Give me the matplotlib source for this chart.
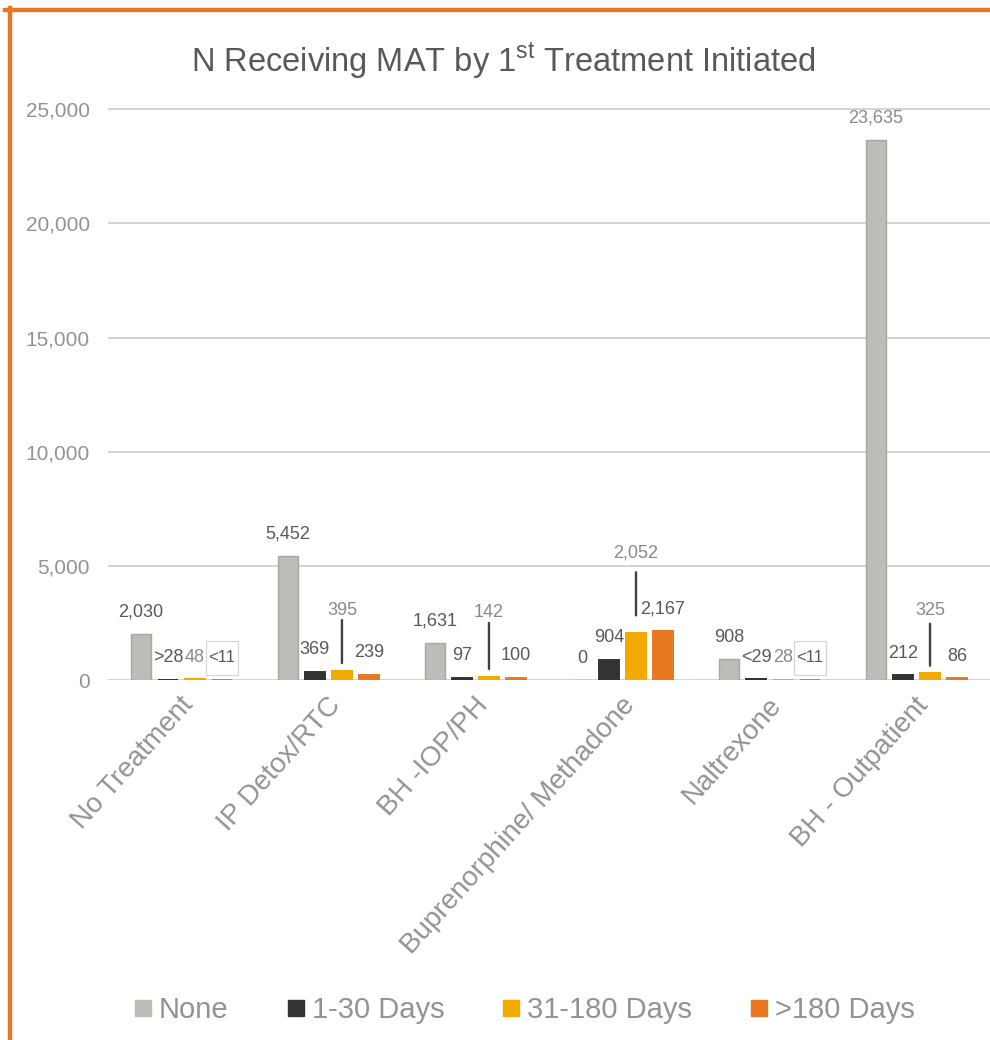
import matplotlib
matplotlib.use("Agg")
import matplotlib.pyplot as plt
import matplotlib.lines as mline
import matplotlib.patches as mpatches
import matplotlib.transforms as mtrans
import numpy as np

# Treatment categories and the four MAT timing series
categories = ["No Treatment", "IP Detox/RTC", "BH -IOP/PH",
              "Buprenorphine/ Methadone", "Naltrexone", "BH - Outpatient"]
series_names = ["None", "1-30 Days", "31-180 Days", ">180 Days"]

none_vals = [2030, 5452, 1631, 0, 908, 23635]
days_1_30 = [28, 369, 97, 904, 29, 212]
days_31_180 = [48, 395, 142, 2052, 28, 325]
days_180_plus = [11, 239, 100, 2167, 11, 86]

none_labels = ["2,030", "5,452", "1,631", "0", "908", "23,635"]
days_1_30_labels = [">28", "369", "97", "904", "<29", "212"]
days_31_180_labels = ["48", "395", "142", "2,052", "28", "325"]
days_180_plus_labels = ["<11", "239", "100", "2,167", "<11", "86"]

y_ticks = [0, 5000, 10000, 15000, 20000, 25000]

colors = ["#bdbdb8", "#333333", "#f2a900", "#e87722"]
dark_txt = "#595959"
light_txt = "#8a8a8a"

plt.rcParams["font.family"] = ["Liberation Sans", "DejaVu Sans"]
plt.rcParams["mathtext.fontset"] = "custom"
plt.rcParams["mathtext.rm"] = "Liberation Sans"

DPI = 100
fig = plt.figure(figsize=(9.9, 10.4), dpi=DPI)
ax = fig.add_axes([0.109, 0.346, 0.891, 0.55])

x = np.arange(len(categories))
step = 0.184
width = 0.136
all_vals = [none_vals, days_1_30, days_31_180, days_180_plus]
all_labels = [none_labels, days_1_30_labels, days_31_180_labels, days_180_plus_labels]

for k, (vals, col) in enumerate(zip(all_vals, colors)):
    if k == 0:
        ec, lw = "#a8a8a3", 1.0
    else:
        ec, lw = col, 1.4  # edge keeps the tiny counts visible
    ax.bar(x + (k - 1.5) * step, vals, width, color=col, edgecolor=ec,
           linewidth=lw, zorder=3, label=series_names[k])

px = 72.0 / DPI  # points per pixel

# labels lifted up with a leader line: (series, category) -> (label offset, line bottom, line top) in px
leaders = {(2, 1): (61, 8, 51), (2, 2): (64, 8, 54),
           (2, 3): (80, 18, 61), (2, 5): (62, 7, 49)}
boxed = {(3, 0), (3, 4)}

for k, (vals, labs) in enumerate(zip(all_vals, all_labels)):
    for i, (v, lab) in enumerate(zip(vals, labs)):
        xc = x[i] + (k - 1.5) * step
        color = light_txt if k == 2 or (k == 0 and i == 5) else dark_txt
        off = 22
        size = 13
        if (k, i) in leaders:
            off, lb, lt = leaders[(k, i)]
            ax.annotate("", xy=(xc, v), xytext=(0, lt * px), textcoords="offset points",
                        arrowprops=dict(arrowstyle="-", color="#404040", lw=1.7,
                                        shrinkA=0, shrinkB=lb * px), zorder=4)
        if (k, i) in boxed:
            size = 12
            # tall narrow frame around the suppressed count, sized in pixels
            anchor = mtrans.ScaledTranslation(xc, v, ax.transData)
            frame = mpatches.Rectangle((-16, off - 17), 32, 34, fc="white", ec="#d6d6d6",
                                       lw=0.9, zorder=4.5,
                                       transform=mtrans.IdentityTransform() + anchor)
            ax.add_artist(frame)
        ax.annotate(lab, xy=(xc, v), xytext=(0, off * px), textcoords="offset points",
                    ha="center", va="center", fontsize=size, color=color, zorder=5)

ax.set_xlim(-0.5, len(categories) - 0.5)
ax.set_ylim(0, 25050)
ax.set_yticks(y_ticks)
ax.set_yticklabels([f"{t:,}" for t in y_ticks], fontsize=15, color="#939393")
ax.tick_params(axis="y", length=0, pad=13)
ax.set_xticks(x)
ax.set_xticklabels(categories, fontsize=20, color="#939393",
                   rotation=48, ha="right", va="center", rotation_mode="anchor")
ax.tick_params(axis="x", length=0, pad=15)
shift = mtrans.ScaledTranslation(8 / DPI, 0, fig.dpi_scale_trans)
for t in ax.get_xticklabels():
    t.set_transform(t.get_transform() + shift)

ax.grid(axis="y", color="#d0d0d0", lw=1.3, zorder=0)
ax.set_axisbelow(True)
for s in ax.spines.values():
    s.set_visible(False)

fig.text(0.508, 0.942, r"N Receiving MAT by 1$^{\rm st}$ Treatment Initiated",
         ha="center", va="center", fontsize=23.5, color=dark_txt)

handles = [mline.Line2D([0], [0], marker="s", ls="", markersize=11,
                        markerfacecolor=c, markeredgecolor=c) for c in colors]
fig.legend(handles, series_names, loc="center", bbox_to_anchor=(0.53, 0.029),
           ncol=4, frameon=False, handlelength=0.6, handletextpad=0.25,
           columnspacing=2.0, prop={"size": 21}, labelcolor="#939393")

# orange frame along the top and left edges
fig.add_artist(mline.Line2D([0.005, 1.0], [0.9905, 0.9905], color="#e87722", lw=3.2))
fig.add_artist(mline.Line2D([0.0101, 0.0101], [0.0, 0.992], color="#e87722", lw=3.2))

fig.savefig("out.png", dpi=DPI, facecolor="white")
